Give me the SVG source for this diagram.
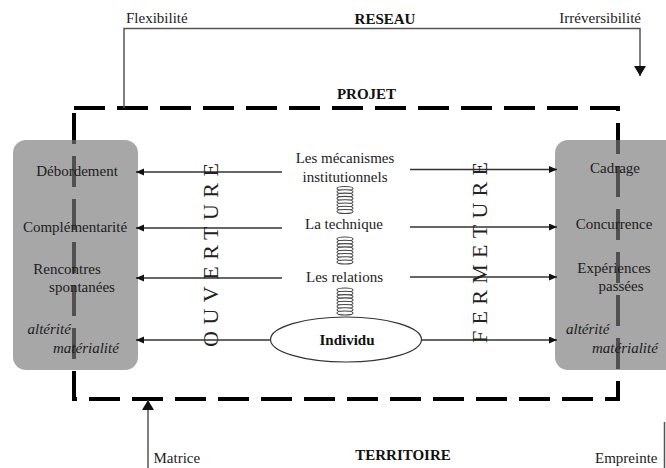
<svg xmlns="http://www.w3.org/2000/svg" width="666" height="468" viewBox="0 0 666 468">
<style>
text{font-family:"Liberation Serif","Times New Roman",serif;font-size:15px;fill:#1c1c1c}
.b{font-weight:bold;fill:#111}
.i{font-style:italic}
.m{text-anchor:middle}
.e{text-anchor:end}
.big{font-size:22px;fill:#222}
.box{fill:rgb(121,121,121);fill-opacity:0.66}
.ln{stroke:#333;stroke-width:1.3;fill:none}
.gl{stroke:#555;stroke-width:1.5;fill:none}
.coil ellipse{fill:#fff;stroke:#444;stroke-width:1.1}
</style>
<defs>
<marker id="ah" markerWidth="9" markerHeight="8" refX="8" refY="3.5" orient="auto" markerUnits="userSpaceOnUse">
<path d="M0,0 L8,3.5 L0,7 z" fill="#111"/>
</marker>
<marker id="ahb" markerWidth="13" markerHeight="12" refX="10" refY="6" orient="auto" markerUnits="userSpaceOnUse">
<path d="M0,0 L10,6 L0,12 z" fill="#111"/>
</marker>
<g id="spring" class="coil">
<ellipse cx="0" cy="2" rx="8" ry="2"/>
<ellipse cx="0" cy="5.3" rx="8" ry="2"/>
<ellipse cx="0" cy="8.6" rx="8" ry="2"/>
<ellipse cx="0" cy="11.9" rx="8" ry="2"/>
<ellipse cx="0" cy="15.2" rx="8" ry="2"/>
<ellipse cx="0" cy="18.5" rx="8" ry="2"/>
<ellipse cx="0" cy="21.8" rx="8" ry="2"/>
<ellipse cx="0" cy="25" rx="8" ry="2"/>
</g>
</defs>

<rect width="666" height="468" fill="#fff"/>

<g id="projet">
<path d="M74,108 H618 V399 H74 Z" fill="none" stroke="#000" stroke-width="4" stroke-dasharray="31 12"/>
<text class="b m" x="366.5" y="99">PROJET</text>
</g>

<g id="gauche">
<rect class="box" x="13" y="140" width="125" height="230" rx="13"/>
<text class="m" x="77" y="176">Débordement</text>
<text class="m" x="75" y="232">Complémentarité</text>
<text class="m" x="67" y="274">Rencontres</text>
<text class="m" x="82" y="292">spontanées</text>
<text class="i" x="27.5" y="334">altérité</text>
<text class="i" x="53" y="353">matérialité</text>
</g>

<g id="droite">
<rect class="box" x="555" y="140" width="130" height="230" rx="13"/>
<text class="m" x="615" y="173">Cadrage</text>
<text class="m" x="614" y="229">Concurrence</text>
<text class="m" x="614" y="273">Expériences</text>
<text class="m" x="621" y="291">passées</text>
<text class="i" x="566" y="334">altérité</text>
<text class="i" x="592" y="353">matérialité</text>
</g>

<g id="connecteurs">
<path class="gl" d="M124,108 V28.5 H640 V76" marker-end="url(#ahb)"/>
<path class="gl" d="M148,468 V400" marker-end="url(#ahb)"/>
<path class="gl" d="M664.5,422 V468"/>
<path class="ln" d="M282,172 H136" marker-end="url(#ah)"/>
<path class="ln" d="M282,228 H136" marker-end="url(#ah)"/>
<path class="ln" d="M282,278 H136" marker-end="url(#ah)"/>
<path class="ln" d="M270,340 H136" marker-end="url(#ah)"/>
<path class="ln" d="M410,169.5 H557" marker-end="url(#ah)"/>
<path class="ln" d="M410,227 H557" marker-end="url(#ah)"/>
<path class="ln" d="M410,277 H557" marker-end="url(#ah)"/>
<path class="ln" d="M422,340 H557" marker-end="url(#ah)"/>
</g>

<g id="reseau">
<text x="126" y="23">Flexibilité</text>
<text class="b m" x="385" y="23.5">RESEAU</text>
<text class="e" x="641" y="23">Irréversibilité</text>
</g>

<g id="territoire">
<text x="153.5" y="463">Matrice</text>
<text class="b m" x="403" y="460">TERRITOIRE</text>
<text x="595" y="463">Empreinte</text>
</g>

<g id="mecanismes">
<text class="m" x="345" y="163">Les mécanismes</text>
<text class="m" x="345" y="182">institutionnels</text>
</g>
<use href="#spring" x="345" y="186.5"/>
<g id="technique">
<text class="m" x="344" y="229">La technique</text>
</g>
<use href="#spring" x="345" y="237"/>
<g id="relations">
<text class="m" x="344.5" y="282">Les relations</text>
</g>
<use href="#spring" x="345" y="288"/>

<g id="individu">
<ellipse cx="346" cy="339.5" rx="75.5" ry="22.5" fill="#fff" stroke="#333" stroke-width="1.2"/>
<text class="b m" x="347" y="345">Individu</text>
</g>

<g id="ouverture">
<text class="big" transform="translate(218,347) rotate(-90)" x="0" y="0" textLength="184" lengthAdjust="spacing">OUVERTURE</text>
</g>
<g id="fermeture">
<text class="big" transform="translate(487,343) rotate(-90)" x="0" y="0" textLength="181" lengthAdjust="spacing">FERMETURE</text>
</g>
</svg>
